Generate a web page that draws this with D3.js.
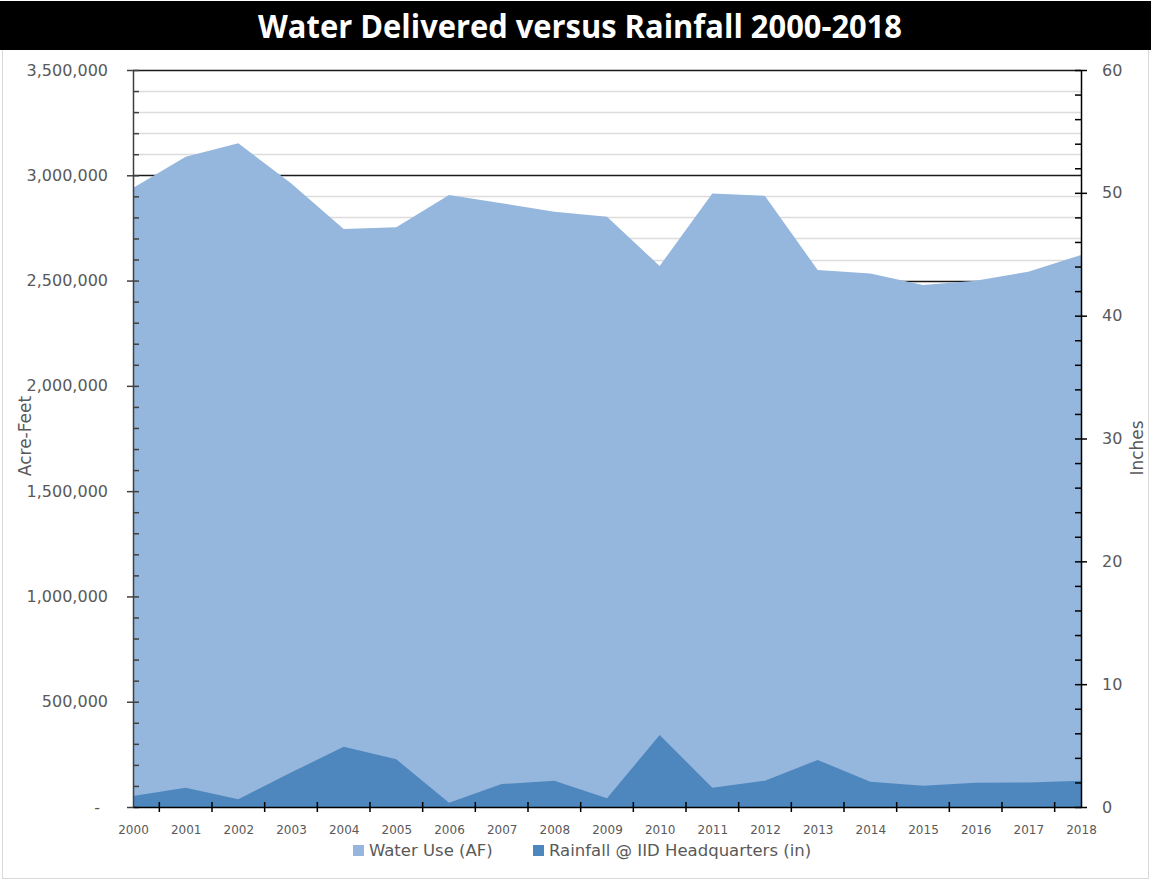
<!DOCTYPE html>
<html>
<head>
<meta charset="utf-8">
<script src="https://cdn.jsdelivr.net/npm/d3@7"></script>
<style>
  html, body { margin: 0; padding: 0; background: #ffffff; }
  svg { display: block; }
</style>
</head>
<body>
<script>
// Yearly water deliveries (acre-feet) and rainfall (inches) at IID headquarters
const years = ["2000","2001","2002","2003","2004","2005","2006","2007","2008","2009",
               "2010","2011","2012","2013","2014","2015","2016","2017","2018"];
const waterUse = [2940000, 3088000, 3152000, 2962000, 2745000, 2753000, 2906000, 2867000,
                  2827000, 2803000, 2569000, 2914000, 2902000, 2550000, 2534000, 2479000,
                  2499000, 2542000, 2621000];
const rainfall = [0.90, 1.57, 0.63, 2.80, 4.91, 3.88, 0.35, 1.87, 2.14, 0.71,
                  5.86, 1.57, 2.14, 3.83, 2.06, 1.74, 1.98, 2.00, 2.14];
const leftTicks = [0, 500000, 1000000, 1500000, 2000000, 2500000, 3000000, 3500000];
const rightTicks = [0, 10, 20, 30, 40, 50, 60];
const seriesNames = ["Water Use (AF)", "Rainfall @ IID Headquarters (in)"];
const chartTitle = "Water Delivered versus Rainfall 2000-2018";

const W = 1151, H = 882;
const plot = { left: 133, right: 1081, top: 70, bottom: 807 };
const colWater = "#95b6dd", colRain = "#4e87be";
const textGray = "#595959";
const font = "'DejaVu Sans', Verdana, sans-serif";

const svg = d3.select("body").append("svg").attr("width", W).attr("height", H);

// Outer frame and title bar
svg.append("rect").attr("x", 2.5).attr("y", 48.5).attr("width", W - 5).attr("height", H - 52)
  .attr("fill", "#fff").attr("stroke", "#d9d9d9");
svg.append("rect").attr("x", 0).attr("y", 1).attr("width", W).attr("height", 49).attr("fill", "#000");
svg.append("text").attr("x", 580).attr("y", 38).attr("text-anchor", "middle")
  .attr("fill", "#fff").attr("font-family", "'Open Sans', 'Liberation Sans', sans-serif")
  .attr("font-weight", "bold").attr("font-size", 32)
  .attr("textLength", 644).attr("lengthAdjust", "spacingAndGlyphs")
  .text(chartTitle);

// Scales
const x = d3.scalePoint().domain(years).range([plot.left, plot.right]).padding(0);
const yL = d3.scaleLinear().domain([0, 3500000]).range([plot.bottom, plot.top]);
const yR = d3.scaleLinear().domain([0, 60]).range([plot.bottom, plot.top]);
const step = x.step();

// Gridlines: light every 100,000 AF, dark every 500,000 AF
const minorVals = d3.range(0, 3500001, 100000).filter(v => v % 500000 !== 0);
svg.append("g").selectAll("line").data(minorVals).join("line")
  .attr("x1", plot.left).attr("x2", plot.right)
  .attr("y1", d => Math.round(yL(d)) + 0.5).attr("y2", d => Math.round(yL(d)) + 0.5)
  .attr("stroke", "#dcdcdc").attr("stroke-width", 1.5);
svg.append("g").selectAll("line").data(leftTicks.filter(v => v > 0)).join("line")
  .attr("x1", plot.left).attr("x2", plot.right)
  .attr("y1", d => Math.round(yL(d)) + 0.5).attr("y2", d => Math.round(yL(d)) + 0.5)
  .attr("stroke", "#1a1a1a").attr("stroke-width", 1.5);

// Areas
const waterArea = d3.area()
  .x((d, i) => x(years[i])).y0(plot.bottom).y1(d => yL(d));
svg.append("path").datum(waterUse).attr("d", waterArea).attr("fill", colWater);

const rainArea = d3.area()
  .x((d, i) => x(years[i])).y0(plot.bottom).y1(d => yR(d));
svg.append("path").datum(rainfall).attr("d", rainArea).attr("fill", colRain);

// Left axis: major ticks crossing, minor ticks inside
const fmtAF = v => v === 0 ? "-" : d3.format(",")(v);
const gL = svg.append("g").attr("transform", `translate(${plot.left},0)`)
  .call(d3.axisLeft(yL).tickValues(leftTicks).tickFormat(fmtAF).tickSizeInner(6).tickSizeOuter(0).tickPadding(19));
gL.selectAll(".tick line").attr("x2", -6).attr("x1", 6).attr("stroke", "#404040").attr("stroke-width", 1.5);
gL.select(".domain").attr("stroke", "#404040").attr("stroke-width", 1.5);
gL.selectAll("text").attr("font-family", font).attr("font-size", 16).attr("fill", textGray);
gL.selectAll(".tick").filter(d => d === 0).select("text").attr("dx", -8);
svg.append("g").attr("transform", `translate(${plot.left},0)`)
  .call(d3.axisRight(yL).tickValues(minorVals).tickFormat("").tickSizeInner(6).tickSizeOuter(0))
  .call(g => g.select(".domain").remove())
  .selectAll("line").attr("stroke", "#404040").attr("stroke-width", 1.5);

// Right axis: major ticks crossing, minor ticks every 2 inches inside
const gR = svg.append("g").attr("transform", `translate(${plot.right},0)`)
  .call(d3.axisRight(yR).tickValues(rightTicks).tickSizeInner(6).tickSizeOuter(0).tickPadding(15));
gR.selectAll(".tick line").attr("x1", -6).attr("x2", 6).attr("stroke", "#000").attr("stroke-width", 1.5);
gR.select(".domain").attr("stroke", "#000").attr("stroke-width", 1.5);
gR.selectAll("text").attr("font-family", font).attr("font-size", 16).attr("fill", textGray);
const rMinor = d3.range(0, 61, 2).filter(v => v % 10 !== 0);
svg.append("g").attr("transform", `translate(${plot.right},0)`)
  .call(d3.axisLeft(yR).tickValues(rMinor).tickFormat("").tickSizeInner(6).tickSizeOuter(0))
  .call(g => g.select(".domain").remove())
  .selectAll("line").attr("stroke", "#000").attr("stroke-width", 1.5);

// Bottom axis: labels at each year, tick marks between years
const gB = svg.append("g").attr("transform", `translate(0,${plot.bottom})`)
  .call(d3.axisBottom(x).tickSize(0).tickPadding(18));
gB.select(".domain").attr("stroke", "#000").attr("stroke-width", 1.5);
gB.selectAll("text").attr("font-family", font).attr("font-size", 12).attr("fill", textGray);
const mids = years.slice(0, -1).map(y => x(y) + step / 2);
svg.append("g").selectAll("line").data(mids).join("line")
  .attr("x1", d => d).attr("x2", d => d)
  .attr("y1", plot.bottom - 5).attr("y2", plot.bottom + 5)
  .attr("stroke", "#000").attr("stroke-width", 1.5);

// Axis titles
svg.append("text").attr("transform", "translate(31,436) rotate(-90)")
  .attr("text-anchor", "middle").attr("font-family", font).attr("font-size", 17)
  .attr("fill", textGray).text("Acre-Feet");
svg.append("text").attr("transform", "translate(1143,448) rotate(-90)")
  .attr("text-anchor", "middle").attr("font-family", font).attr("font-size", 17)
  .attr("fill", textGray).text("Inches");

// Legend
const legendX = [353, 533];
const legend = svg.append("g").selectAll("g").data(seriesNames).join("g")
  .attr("transform", (d, i) => `translate(${legendX[i]},845)`);
legend.append("rect").attr("width", 11).attr("height", 11)
  .attr("fill", (d, i) => i === 0 ? colWater : colRain);
legend.append("text").attr("x", 16).attr("y", 11)
  .attr("font-family", font).attr("font-size", 16.5).attr("fill", textGray)
  .text(d => d);
</script>
</body>
</html>
